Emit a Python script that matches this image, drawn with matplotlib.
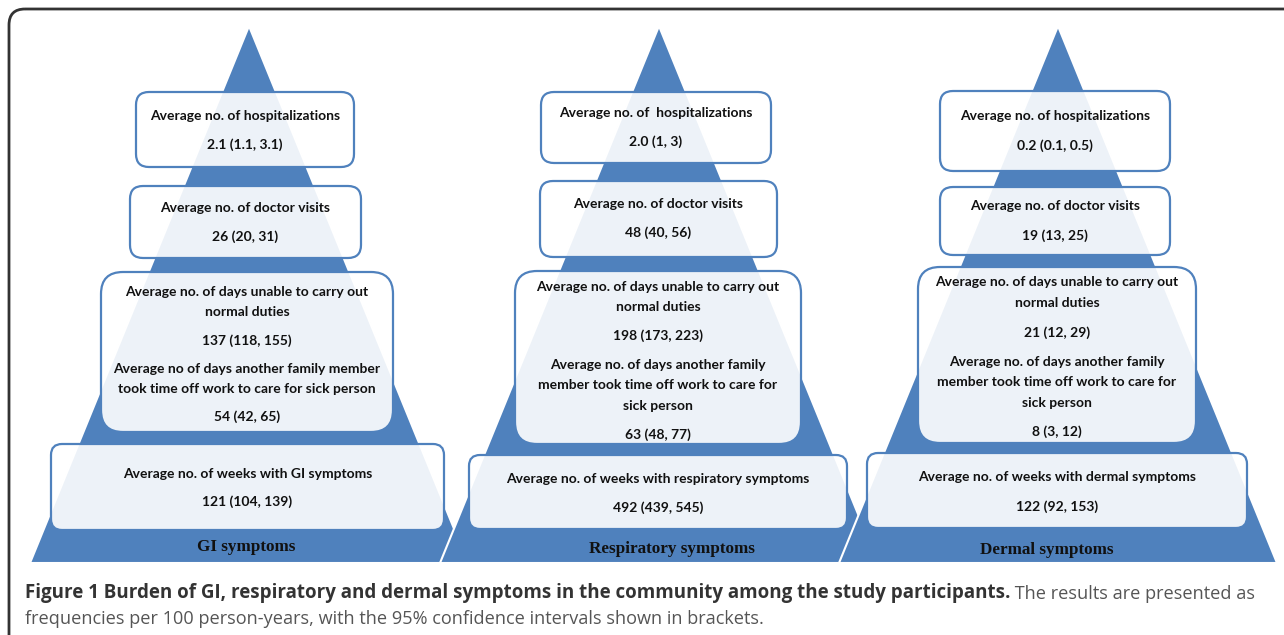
import numpy as np
import matplotlib
matplotlib.use('Agg')
import matplotlib.pyplot as plt
from matplotlib import font_manager
from matplotlib.patches import Polygon, FancyBboxPatch

#%% DATA (frequencies per 100 person-years, 95% CI)
panels = ['GI symptoms', 'Respiratory symptoms', 'Dermal symptoms']
hospitalizations = ['2.1 (1.1, 3.1)', '2.0 (1, 3)', '0.2 (0.1, 0.5)']
doctor_visits = ['26 (20, 31)', '48 (40, 56)', '19 (13, 25)']
days_unable = ['137 (118, 155)', '198 (173, 223)', '21 (12, 29)']
days_family = ['54 (42, 65)', '63 (48, 77)', '8 (3, 12)']
weeks_symptoms = ['121 (104, 139)', '492 (439, 545)', '122 (92, 153)']

#%% STYLE
blue = '#4f81bd'
names = {f.name for f in font_manager.fontManager.ttflist}
if 'Liberation Sans Narrow' in names:
    box_font, box_size = 'Liberation Sans Narrow', 11
else:
    box_font, box_size = 'Lato', 10

#%% LAYOUT (pixels, y downwards)
apex_x = [249, 659, 1058]
apex_y, base_y, half_base = 26, 563, 219
label_x = [246, 672, 1047]
label_y = [547, 549, 550]

boxes = [
    [(136, 92, 354, 167, 13), (130, 186, 361, 258, 13), (101, 272, 393, 432, 22), (51, 444, 444, 530, 11)],
    [(541, 92, 771, 163, 13), (540, 181, 777, 257, 13), (515, 271, 801, 444, 22), (469, 455, 847, 529, 11)],
    [(940, 91, 1170, 171, 13), (940, 187, 1170, 255, 13), (918, 267, 1196, 443, 22), (867, 453, 1247, 528, 11)],
]

lines = [
    [[(116, 'Average no. of hospitalizations'), (145, hospitalizations[0])],
     [(208, 'Average no. of doctor visits'), (237, doctor_visits[0])],
     [(292, 'Average no. of days unable to carry out'), (312, 'normal duties'), (341, days_unable[0]),
      (369, 'Average no of days another family member'), (389, 'took time off work to care for sick person'),
      (417, days_family[0])],
     [(474, 'Average no. of weeks with GI symptoms'), (502, weeks_symptoms[0])]],
    [[(113, 'Average no. of  hospitalizations'), (142, hospitalizations[1])],
     [(204, 'Average no. of doctor visits'), (233, doctor_visits[1])],
     [(287, 'Average no. of days unable to carry out'), (307, 'normal duties'), (336, days_unable[1]),
      (365, 'Average no. of days another family'), (385, 'member took time off work to care for'),
      (406, 'sick person'), (435, days_family[1])],
     [(479, 'Average no. of weeks with respiratory symptoms'), (508, weeks_symptoms[1])]],
    [[(116, 'Average no. of hospitalizations'), (146, hospitalizations[2])],
     [(206, 'Average no. of doctor visits'), (236, doctor_visits[2])],
     [(282, 'Average no. of days unable to carry out'), (303, 'normal duties'), (333, days_unable[2]),
      (362, 'Average no. of days another family'), (382, 'member took time off work to care for'),
      (403, 'sick person'), (432, days_family[2])],
     [(477, 'Average no. of weeks with dermal symptoms'), (507, weeks_symptoms[2])]],
]

#%% FIGURE
fig = plt.figure(figsize=(12.84, 6.35), dpi=100)
ax = fig.add_axes([0, 0, 1, 1])
ax.set_xlim(0, 1284)
ax.set_ylim(635, 0)
ax.axis('off')

# outer frame
ax.add_patch(FancyBboxPatch((9, 9), 1320, 680, boxstyle='round,pad=0,rounding_size=16',
                            facecolor='none', edgecolor='#333333', lw=2, zorder=0))

z = 1
for k in range(3):
    tri = Polygon([(apex_x[k], apex_y), (apex_x[k] + half_base, base_y), (apex_x[k] - half_base, base_y)],
                  closed=True, facecolor=blue, edgecolor='white', lw=1.5, zorder=z)
    ax.add_patch(tri)
    for (x0, y0, x1, y1, r), txt in zip(boxes[k], lines[k]):
        ax.add_patch(FancyBboxPatch((x0, y0), x1 - x0, y1 - y0,
                                    boxstyle='round,pad=0,rounding_size=%d' % r,
                                    facecolor=(1, 1, 1, 0.9), edgecolor=blue, lw=1.6, zorder=z + 1))
        for yy, s in txt:
            ax.text((x0 + x1) / 2, yy, s, ha='center', va='center', fontsize=box_size,
                    family=box_font, weight='bold', color='#111111', zorder=z + 2)
    ax.text(label_x[k], label_y[k], panels[k], ha='center', va='center', fontsize=12.3,
            family='Liberation Serif', weight='bold', color='#111111', zorder=z + 2)
    z += 3

# caption
cap_bold = ax.text(25, 593, 'Figure 1 Burden of GI, respiratory and dermal symptoms in the community '
                   'among the study participants.', ha='left', va='center', fontsize=13.5,
                   family='Open Sans', weight='bold', color='#333333')
ax.annotate(' The results are presented as', xy=(1, 0), xycoords=cap_bold, ha='left', va='bottom',
            fontsize=13.1, family='Open Sans', color='#555555')
ax.text(25, 619, 'frequencies per 100 person-years, with the 95% confidence intervals shown in brackets.',
        ha='left', va='center', fontsize=13.1, family='Open Sans', color='#555555')

plt.savefig('out.png', dpi=100)
